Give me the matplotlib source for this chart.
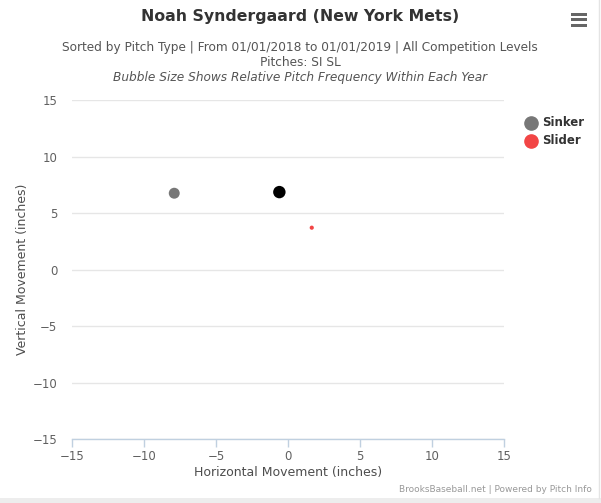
import numpy as np
import matplotlib
matplotlib.use("Agg")
import matplotlib.pyplot as plt
from matplotlib.patches import Rectangle

# pitch bubbles (horizontal, vertical movement in inches)
pitch_names = ["Sinker", "Sinker", "Slider"]
horiz = [-7.9, -0.6, 1.65]
vert = [6.75, 6.85, 3.7]
sizes = [62, 80, 9]
colors = ["#777777", "#000000", "#f24545"]

legend_names = ["Sinker", "Slider"]
legend_colors = ["#777777", "#f24545"]

xticks = [-15, -10, -5, 0, 5, 10, 15]
yticks = [-15, -10, -5, 0, 5, 10, 15]

W, H = 601, 503
fig = plt.figure(figsize=(W / 100, H / 100), dpi=100)
fig.patch.set_facecolor("white")
plt.rcParams['font.family'] = ['DejaVu Sans']

ax = fig.add_axes([72 / W, 1 - 439 / H, 432 / W, 339 / H])
ax.set_xlim(-15, 15)
ax.set_ylim(-15, 15)
ax.scatter(horiz, vert, s=sizes, c=colors, linewidths=0, zorder=3)

for s in ["top", "right", "left"]:
    ax.spines[s].set_visible(False)
ax.spines["bottom"].set_color("#c0d0e0")
ax.spines["bottom"].set_linewidth(1)
ax.set_xticks(xticks)
ax.set_yticks(yticks)
ax.set_xticklabels([str(t).replace("-", "\u2212") for t in xticks])
ax.set_yticklabels([str(t).replace("-", "\u2212") for t in yticks])
ax.tick_params(axis="x", colors="#c0d0e0", length=6, width=1, labelcolor="#606060",
               labelsize=8.5, pad=2)
ax.tick_params(axis="y", length=0, labelcolor="#606060", labelsize=8.5, pad=10.5)
ax.yaxis.grid(True, color="#e6e6e6", linewidth=1)
ax.set_axisbelow(True)
ax.set_xlabel("Horizontal Movement (inches)", color="#4d4d4d", fontsize=9, labelpad=2)
ax.set_ylabel("Vertical Movement (inches)", color="#4d4d4d", fontsize=9, labelpad=2.5)

# titles
fig.text(300 / W, 1 - 17 / H, "Noah Syndergaard (New York Mets)", ha="center", va="center",
         fontsize=11.3, fontweight="bold", color="#333333")
fig.text(300 / W, 1 - 47 / H,
         "Sorted by Pitch Type | From 01/01/2018 to 01/01/2019 | All Competition Levels",
         ha="center", va="center", fontsize=8.7, color="#555555")
fig.text(300 / W, 1 - 62 / H, "Pitches: SI SL", ha="center", va="center",
         fontsize=8.7, color="#555555")
fig.text(300 / W, 1 - 77 / H, "Bubble Size Shows Relative Pitch Frequency Within Each Year",
         ha="center", va="center", fontsize=8.7, color="#555555", style="italic")

# legend
for i, (name, col) in enumerate(zip(legend_names, legend_colors)):
    yy = 1 - (123 + 18 * i) / H
    fig.add_artist(plt.Line2D([531 / W], [yy], marker="o", markersize=9.5,
                              markerfacecolor=col, markeredgecolor=col, linestyle=""))
    fig.text(542 / W, yy, name, ha="left", va="center", fontsize=8.5,
             fontweight="bold", color="#333333")

# menu icon
for yb in [14, 19.5, 25]:
    fig.add_artist(Rectangle((571 / W, 1 - (yb + 1.5) / H), 16 / W, 3 / H,
                             facecolor="#666666", edgecolor="none"))

# credits, page edge
fig.text(592 / W, 1 - 490 / H, "BrooksBaseball.net | Powered by Pitch Info", ha="right",
         va="center", fontsize=6.5, color="#999999")
fig.add_artist(Rectangle((0, 0), 1, 5 / H, facecolor="#ededed", edgecolor="none"))
fig.add_artist(plt.Line2D([598.5 / W, 598.5 / W], [5 / H, 1], color="#e4e4e4", linewidth=1))

fig.savefig("out.png", dpi=100)
